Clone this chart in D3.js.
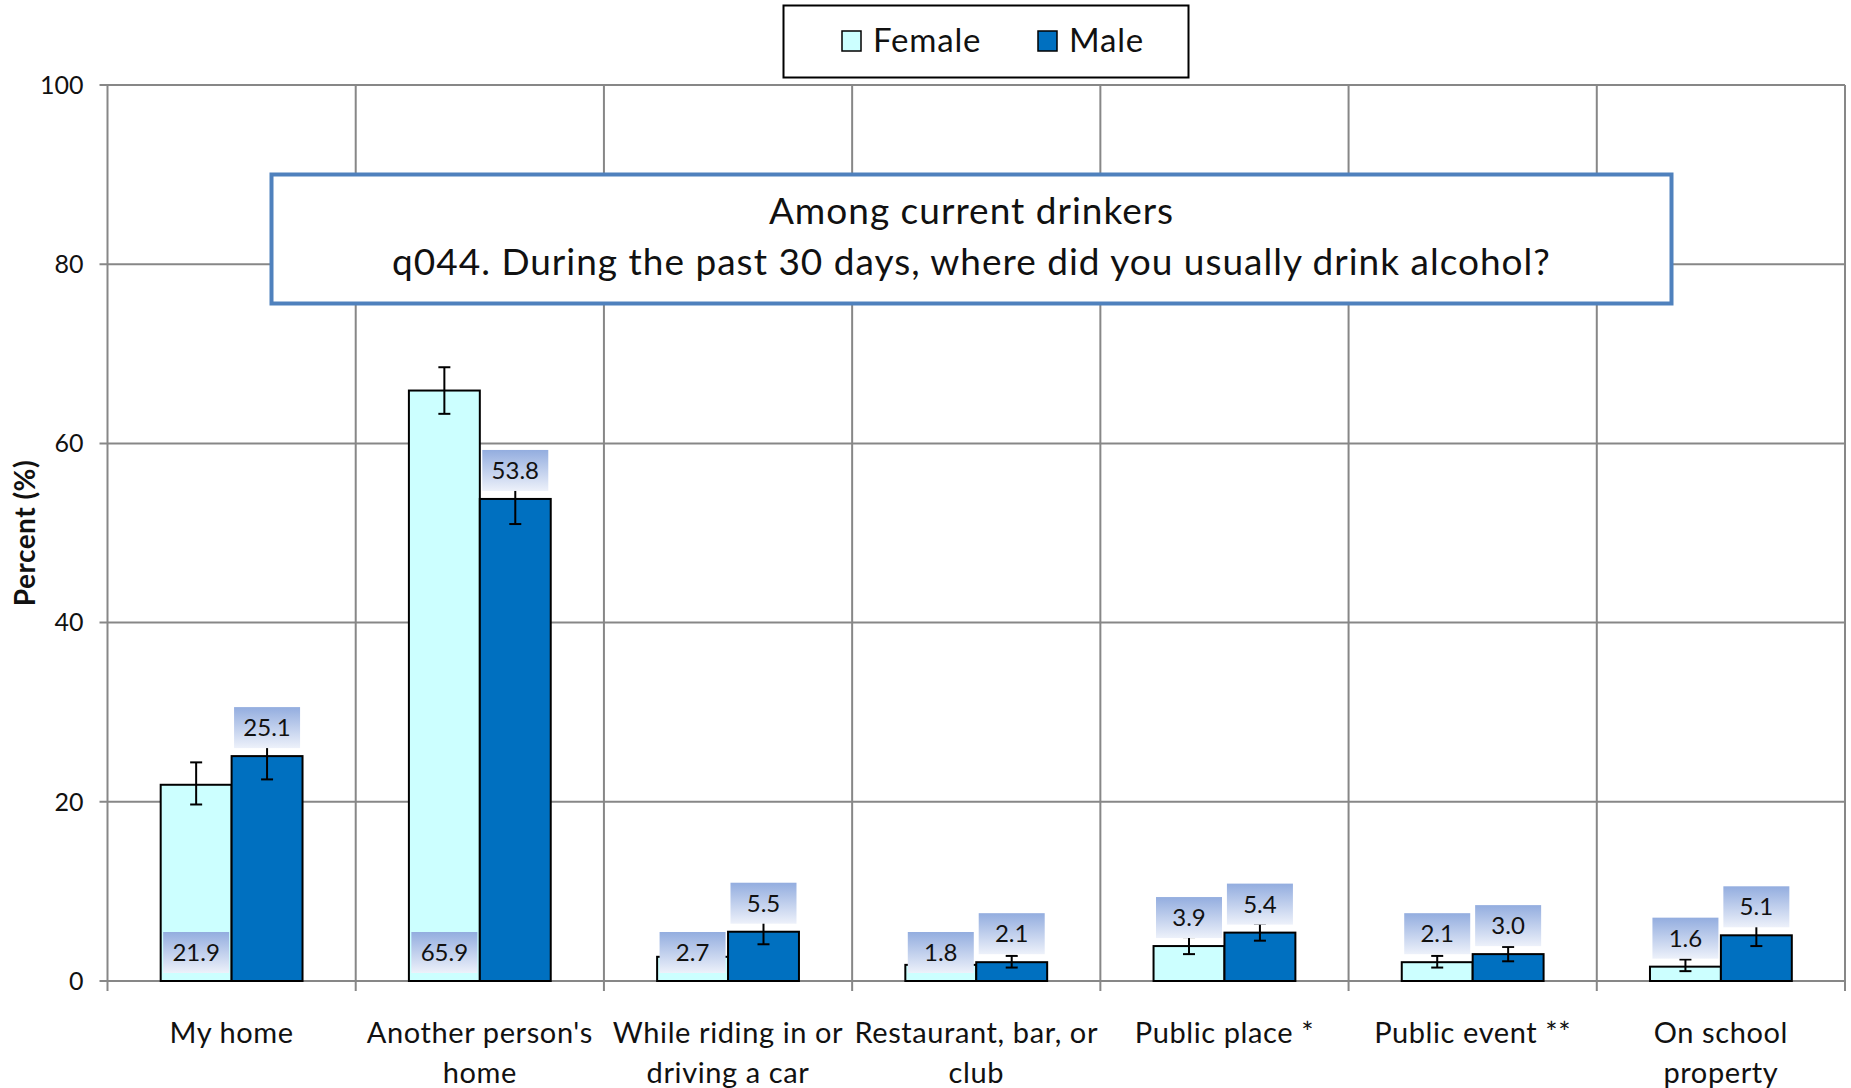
<!DOCTYPE html>
<html>
<head>
<meta charset="utf-8">
<script src="https://cdn.jsdelivr.net/npm/d3@7"></script>
<style>
  body { margin: 0; background: #fff; }
  svg { display: block; font-family: Lato, "Open Sans", sans-serif; }
</style>
</head>
<body>
<div id="chart"></div>
<script>
// chart data
const categories = ["My home", "Another person's home", "While riding in or driving a car",
  "Restaurant, bar, or club", "Public place *", "Public event **", "On school property"];
const categoryLines = [["My home"], ["Another person's", "home"], ["While riding in or", "driving a car"],
  ["Restaurant, bar, or", "club"], ["Public place *"], ["Public event **"], ["On school", "property"]];
const series = ["Female", "Male"];
const femaleValues = [21.9, 65.9, 2.7, 1.8, 3.9, 2.1, 1.6];
const maleValues = [25.1, 53.8, 5.5, 2.1, 5.4, 3.0, 5.1];
const femaleLow = [19.7, 63.3, 1.9, 1.2, 3.0, 1.5, 1.1];
const femaleHigh = [24.4, 68.5, 3.8, 2.6, 4.9, 2.8, 2.4];
const maleLow = [22.5, 51.0, 4.1, 1.5, 4.5, 2.2, 3.9];
const maleHigh = [27.7, 56.6, 6.9, 2.8, 6.4, 3.8, 6.3];
const yTicks = [0, 20, 40, 60, 80, 100];
const titleLines = ["Among current drinkers", "q044. During the past 30 days, where did you usually drink alcohol?"];
// female labels sit at the bar base for these categories
const baseLabelCats = [0, 1, 2, 3];

const width = 1851, height = 1088;
const margin = {left: 107.5, right: 6, top: 85, bottom: 107};
const colors = {Female: "#CCFFFF", Male: "#0070C0"};
const gridColor = "#878787";

const svg = d3.select("#chart").append("svg")
    .attr("width", width)
    .attr("height", height);

const defs = svg.append("defs");
const grad = defs.append("linearGradient")
    .attr("id", "lblGrad")
    .attr("x1", 0).attr("y1", 0).attr("x2", 0).attr("y2", 1);
grad.append("stop").attr("offset", "0%").attr("stop-color", "#93ADDF");
grad.append("stop").attr("offset", "100%").attr("stop-color", "#EDF1FA");

const x = d3.scaleBand()
    .domain(categories)
    .range([margin.left, width - margin.right])
    .padding(0);

const xSub = d3.scaleBand()
    .domain(series)
    .range([0, x.bandwidth()])
    .paddingInner(0)
    .paddingOuter(0.75);

const y = d3.scaleLinear()
    .domain([0, 100])
    .range([height - margin.bottom, margin.top]);

// gridlines
const grid = svg.append("g");
grid.selectAll("line.h")
    .data(yTicks)
    .join("line")
    .attr("x1", margin.left - 8).attr("x2", width - margin.right)
    .attr("y1", d => y(d)).attr("y2", d => y(d))
    .attr("stroke", gridColor).attr("stroke-width", 2);

const bounds = categories.map(c => x(c)).concat([x.range()[1]]);
grid.selectAll("line.v")
    .data(bounds)
    .join("line")
    .attr("x1", d => d).attr("x2", d => d)
    .attr("y1", y(100)).attr("y2", y(0) + 10)
    .attr("stroke", gridColor).attr("stroke-width", 2);

// y tick labels
svg.append("g")
    .selectAll("text")
    .data(yTicks)
    .join("text")
    .attr("x", margin.left - 24)
    .attr("y", d => y(d))
    .attr("dy", "0.35em")
    .attr("text-anchor", "end")
    .attr("font-size", 25)
    .attr("fill", "#111")
    .text(d => d);

// y axis title
svg.append("text")
    .attr("transform", `translate(35, ${(y(0) + y(100)) / 2}) rotate(-90)`)
    .attr("text-anchor", "middle")
    .attr("font-size", 28)
    .attr("letter-spacing", 0.5)
    .attr("font-weight", "bold")
    .attr("fill", "#111")
    .text("Percent (%)");

// bars
const rows = categories.map((c, i) => ({
    cat: c, i: i,
    vals: [
        {s: "Female", v: femaleValues[i], lo: femaleLow[i], hi: femaleHigh[i]},
        {s: "Male", v: maleValues[i], lo: maleLow[i], hi: maleHigh[i]}
    ]
}));

const groups = svg.append("g")
    .selectAll("g")
    .data(rows)
    .join("g")
    .attr("transform", d => `translate(${x(d.cat)},0)`);

groups.selectAll("rect")
    .data(d => d.vals)
    .join("rect")
    .attr("x", d => xSub(d.s))
    .attr("width", xSub.bandwidth())
    .attr("y", d => y(d.v))
    .attr("height", d => y(0) - y(d.v))
    .attr("fill", d => colors[d.s])
    .attr("stroke", "#000")
    .attr("stroke-width", 2);

// error bars
const capW = 12;
groups.each(function(row) {
    const g = d3.select(this);
    row.vals.forEach(d => {
        const cx = xSub(d.s) + xSub.bandwidth() / 2;
        const eb = g.append("g").attr("stroke", "#000").attr("stroke-width", 2);
        eb.append("line").attr("x1", cx).attr("x2", cx).attr("y1", y(d.lo)).attr("y2", y(d.hi));
        eb.append("line").attr("x1", cx - capW / 2).attr("x2", cx + capW / 2).attr("y1", y(d.lo)).attr("y2", y(d.lo));
        eb.append("line").attr("x1", cx - capW / 2).attr("x2", cx + capW / 2).attr("y1", y(d.hi)).attr("y2", y(d.hi));
    });
});

// data labels
const lblW = 66, lblH = 41;
groups.each(function(row) {
    const g = d3.select(this);
    row.vals.forEach(d => {
        const cx = xSub(d.s) + xSub.bandwidth() / 2;
        const atBase = d.s === "Female" && baseLabelCats.includes(row.i);
        const bottom = atBase ? y(0) - 8 : y(d.v) - 8;
        g.append("rect")
            .attr("x", cx - lblW / 2)
            .attr("y", bottom - lblH)
            .attr("width", lblW)
            .attr("height", lblH)
            .attr("fill", "url(#lblGrad)");
        g.append("text")
            .attr("x", cx)
            .attr("y", bottom - lblH / 2)
            .attr("dy", "0.36em")
            .attr("text-anchor", "middle")
            .attr("font-size", 24)
            .attr("fill", "#111")
            .text(d.v.toFixed(1));
    });
});

// category labels
svg.append("g")
    .selectAll("text")
    .data(categories)
    .join("text")
    .attr("x", d => x(d) + x.bandwidth() / 2)
    .attr("y", 1043)
    .attr("text-anchor", "middle")
    .attr("font-size", 29)
    .attr("letter-spacing", 0.6)
    .attr("fill", "#111")
    .each(function(d, i) {
        d3.select(this).selectAll("tspan")
            .data(categoryLines[i])
            .join("tspan")
            .attr("x", x(d) + x.bandwidth() / 2)
            .attr("dy", (t, j) => j === 0 ? 0 : 40)
            .text(t => t);
    });

// title box
const tb = {x: 271.5, y: 174.5, w: 1400, h: 129};
svg.append("rect")
    .attr("x", tb.x).attr("y", tb.y)
    .attr("width", tb.w).attr("height", tb.h)
    .attr("fill", "#fff")
    .attr("stroke", "#4F81BD")
    .attr("stroke-width", 4);
svg.append("g")
    .selectAll("text")
    .data(titleLines)
    .join("text")
    .attr("x", tb.x + tb.w / 2)
    .attr("y", (d, i) => 224 + i * 51)
    .attr("text-anchor", "middle")
    .attr("font-size", 37)
    .attr("letter-spacing", 1)
    .attr("fill", "#111")
    .text(d => d);

// legend
const legend = svg.append("g");
legend.append("rect")
    .attr("x", 783.5).attr("y", 5.5)
    .attr("width", 405).attr("height", 72)
    .attr("fill", "#fff")
    .attr("stroke", "#000")
    .attr("stroke-width", 2);
const legendX = [842, 1038];
series.forEach((s, i) => {
    legend.append("rect")
        .attr("x", legendX[i]).attr("y", 31)
        .attr("width", 19).attr("height", 20)
        .attr("fill", colors[s])
        .attr("stroke", "#000")
        .attr("stroke-width", 1.5);
    legend.append("text")
        .attr("x", legendX[i] + 31)
        .attr("y", 52)
        .attr("font-size", 33)
        .attr("letter-spacing", 0.8)
        .attr("fill", "#111")
        .text(s);
});
</script>
</body>
</html>
